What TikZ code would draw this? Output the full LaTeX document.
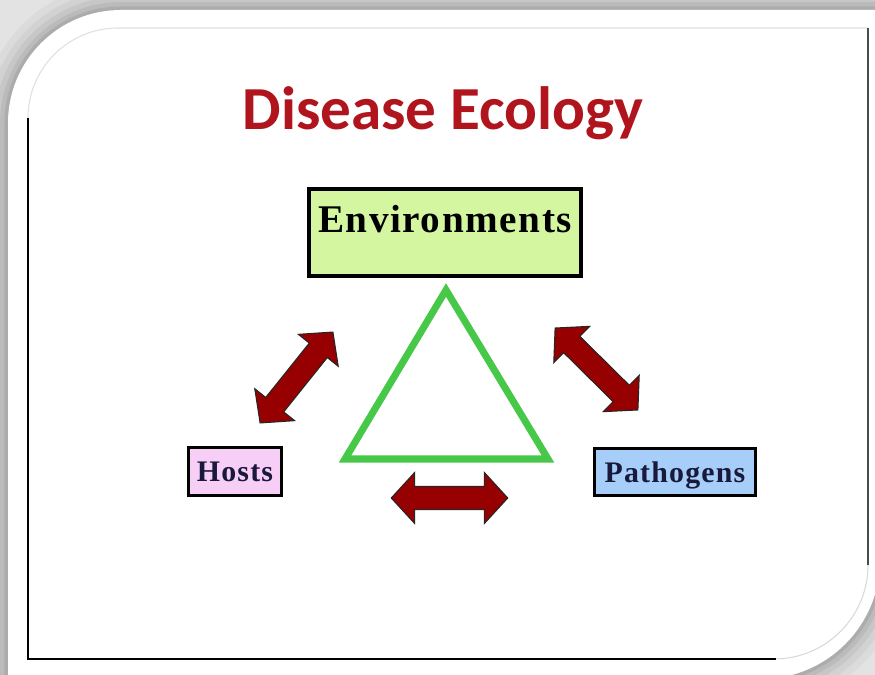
\documentclass[tikz,border=0pt]{standalone}
\usepackage{fontspec}
\setmainfont{Liberation Serif}
\newfontfamily\titlefont{Carlito}
\usetikzlibrary{shapes.arrows}
\definecolor{titlered}{RGB}{176,20,28}
\definecolor{envgreen}{RGB}{212,246,160}
\definecolor{hostpink}{RGB}{246,206,246}
\definecolor{pathblue}{RGB}{166,206,248}
\definecolor{trigreen}{RGB}{72,200,72}
\definecolor{arrowred}{RGB}{150,0,0}
\definecolor{labelnavy}{RGB}{25,25,60}

\begin{document}
\begin{tikzpicture}[x=0.02cm,y=-0.02cm]
			\tikzstyle{every node}+=[inner sep=0pt]
			\tikzstyle{box}=[draw=black, line width=1.7pt, text=labelnavy, text depth=0pt, font=\fontsize{17}{17}\selectfont\bfseries\addfontfeatures{LetterSpace=4}]
			\tikzstyle{dblarrow}=[double arrow, draw=black!85, line width=0.6pt, fill=arrowred, inner ysep=0.22cm, minimum height=2.33cm, minimum width=1cm, double arrow head extend=0.28cm, double arrow tip angle=95]
			\useasboundingbox (0,0) rectangle (875,675);
			\clip (0,0) rectangle (875,675);
			\fill [black!11] (0,0) rectangle (875,675);
			\foreach \w/\o in {30/0.03,22/0.04,15/0.05,9/0.06,4/0.08}
				\draw [black, line width=\w pt, opacity=\o] (8,720) -- (8,123) arc[start angle=180, end angle=270, radius=113] -- (880,10) -- (880,560) arc[start angle=0, end angle=90, radius=119] -- cycle;
			\fill [white] (8,720) -- (8,123) arc[start angle=180, end angle=270, radius=113] -- (880,10) -- (880,560) arc[start angle=0, end angle=90, radius=119] -- cycle;
			\draw [black!12, line width=0.6pt] (28,118) arc[start angle=180, end angle=270, radius=90] -- (868,28);
			\draw [black!15, line width=0.6pt] (868,565) arc[start angle=0, end angle=90, radius=94];
			\draw [black, line width=1.6pt] (28,118) -- (28,659) -- (776,659);
			\draw [black!70, line width=1.2pt] (868,28) -- (868,565);
			\node [anchor=base, text=titlered, font=\titlefont\bfseries\fontsize{34.8}{34.8}\selectfont] (title) at (443,130) {Disease Ecology};
			\node [box, fill=envgreen, text=black, line width=2.3pt, minimum width=5.44cm, text height=0.88cm, text depth=0.86cm, font=\fontsize{22.3}{22.3}\selectfont\bfseries\addfontfeatures{LetterSpace=4}] (env) at (445,232.5) {Environments};
			\node [box, fill=hostpink, minimum width=1.86cm, minimum height=0.96cm] (hosts) at (235,471.5) {Hosts};
			\node [box, fill=pathblue, minimum width=3.22cm, minimum height=0.94cm] (path) at (675,472) {Pathogens};
			\draw [trigreen, line width=4pt, line join=miter] (446,290) -- (345,459) -- (548,459) -- cycle;
			\node [dblarrow, rotate=51.3] (hearr) at (296.5,377.5) {};
			\node [dblarrow, rotate=-44.7] (eparr) at (596.5,369) {};
			\node [dblarrow] (hparr) at (449.5,498) {};
		\end{tikzpicture}
\end{document}
